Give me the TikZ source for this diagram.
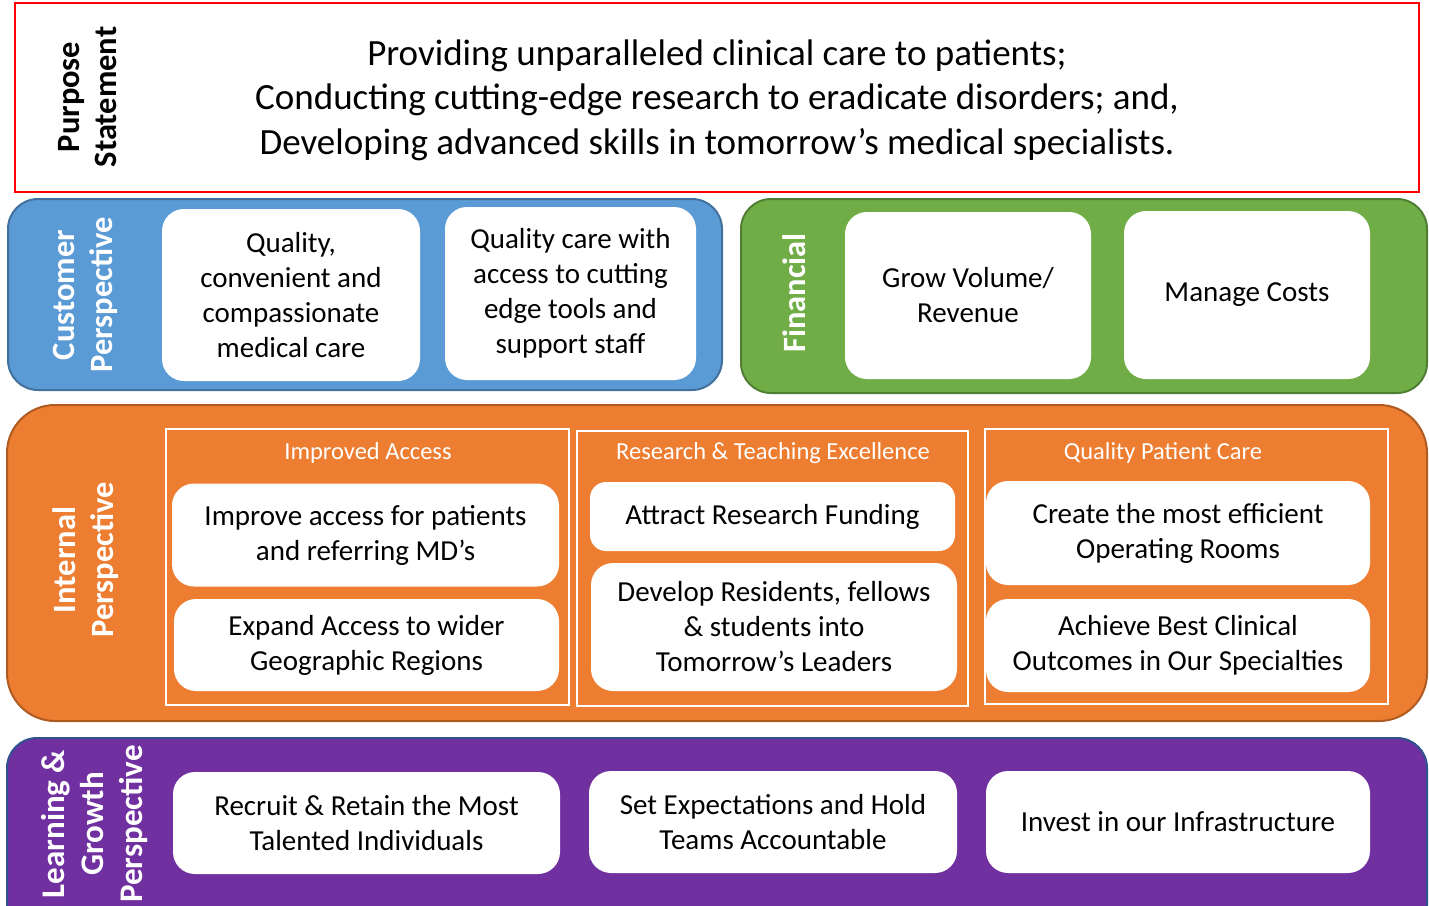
\documentclass[tikz,border=0pt]{standalone}
\usepackage{fontspec}
\setmainfont{Carlito}
\definecolor{custblue}{HTML}{5B9BD5}
\definecolor{custblueline}{HTML}{41719C}
\definecolor{fingreen}{HTML}{70AD47}
\definecolor{fingreenline}{HTML}{507E32}
\definecolor{intorange}{HTML}{ED7D31}
\definecolor{intorangeline}{HTML}{AE5A21}
\definecolor{lgpurple}{HTML}{7030A0}
\definecolor{lgpurpleline}{HTML}{2F528F}
\begin{document}
\begin{tikzpicture}[x=1pt,y=-1pt,
  band/.style={draw, line width=2pt, inner sep=0pt, rounded corners=#1},
  band/.default=30pt,
  wbox/.style={fill=white, draw=none, rounded corners=22pt, inner sep=2pt, align=center,
    font=\fontsize{29}{35}\selectfont},
  frame/.style={draw=white, line width=1.6pt, inner sep=0pt},
  sidelabel/.style={rotate=90, align=center, text=white,
    font=\fontsize{32.5}{38}\selectfont\bfseries},
  header/.style={text=white, font=\fontsize{24.5}{28}\selectfont}
]
\useasboundingbox (0,0) rectangle (1429,905);
\begin{scope}
\clip (0,0) rectangle (1429,905);

% Purpose statement
\node[draw=red, line width=1.4pt, minimum width=1404pt, minimum height=189pt, inner sep=0pt] (purpose) at (717,97.5) {};
\node[rotate=90, align=center, font=\fontsize{32.5}{37}\selectfont\bfseries] (purposelbl) at (88,97) {Purpose\\Statement};
\node[align=center, font=\fontsize{37}{44.5}\selectfont] (purposetxt) at (717,100) {Providing unparalleled clinical care to patients;\\Conducting cutting-edge research to eradicate disorders; and,\\Developing advanced skills in tomorrow’s medical specialists.};

% Customer perspective
\node[band, fill=custblue, draw=custblueline, minimum width=714pt, minimum height=191pt] (cust) at (365,294.5) {};
\node[sidelabel] (custlbl) at (85,295) {Customer\\Perspective};
\node[wbox, minimum width=258pt, minimum height=172pt] (c1) at (291,295) {Quality,\\convenient and\\compassionate\\medical care};
\node[wbox, minimum width=251pt, minimum height=173pt] (c2) at (570.5,293.5) {Quality care with\\access to cutting\\edge tools and\\support staff};

% Financial
\node[band, fill=fingreen, draw=fingreenline, minimum width=686pt, minimum height=194pt] (fin) at (1084,296) {};
\node[sidelabel] (finlbl) at (794,293) {Financial};
\node[wbox, minimum width=246pt, minimum height=167pt] (f1) at (968,295.5) {Grow Volume/\\Revenue};
\node[wbox, minimum width=246pt, minimum height=168pt] (f2) at (1247,295) {Manage Costs};

% Internal perspective
\node[band=48pt, fill=intorange, draw=intorangeline, minimum width=1420pt, minimum height=316pt] (int) at (717,563) {};
\node[sidelabel] (intlbl) at (86,560) {Internal\\Perspective};
\node[frame, minimum width=403pt, minimum height=276pt] (g1) at (367.5,567) {};
\node[frame, minimum width=391pt, minimum height=275pt] (g2) at (772.5,568.5) {};
\node[frame, minimum width=403pt, minimum height=275pt] (g3) at (1186.5,566.5) {};
\node[header] (h1) at (368,453) {Improved Access};
\node[header] (h2) at (773,453) {Research \& Teaching Excellence};
\node[header] (h3) at (1163,453) {Quality Patient Care};
\node[wbox, minimum width=387pt, minimum height=103pt] (i1) at (365.5,535) {Improve access for patients\\and referring MD’s};
\node[wbox, minimum width=385pt, minimum height=92pt] (i2) at (366.5,645) {Expand Access to wider\\Geographic Regions};
\node[wbox, minimum width=365pt, minimum height=69pt, rounded corners=16pt] (i3) at (772.5,516.5) {Attract Research Funding};
\node[wbox, minimum width=366pt, minimum height=128pt] (i4) at (774,627) {Develop Residents, fellows\\\& students into\\Tomorrow’s Leaders};
\node[wbox, minimum width=384pt, minimum height=104pt] (i5) at (1178,533) {Create the most efficient\\Operating Rooms};
\node[wbox, minimum width=384pt, minimum height=93pt] (i6) at (1178,645.5) {Achieve Best Clinical\\Outcomes in Our Specialties};

% Learning & growth perspective
\node[band, fill=lgpurple, draw=lgpurpleline, minimum width=1420pt, minimum height=197pt] (learn) at (717,836.5) {};
\node[sidelabel, font=\fontsize{33}{39}\selectfont\bfseries] (learnlbl) at (95,824) {Learning \&\\Growth\\Perspective};
\node[wbox, minimum width=387pt, minimum height=102pt] (l1) at (366.5,823) {Recruit \& Retain the Most\\Talented Individuals};
\node[wbox, minimum width=368pt, minimum height=102pt] (l2) at (773,822) {Set Expectations and Hold\\Teams Accountable};
\node[wbox, minimum width=384pt, minimum height=102pt] (l3) at (1178,822) {Invest in our Infrastructure};
\end{scope}
\end{tikzpicture}
\end{document}
